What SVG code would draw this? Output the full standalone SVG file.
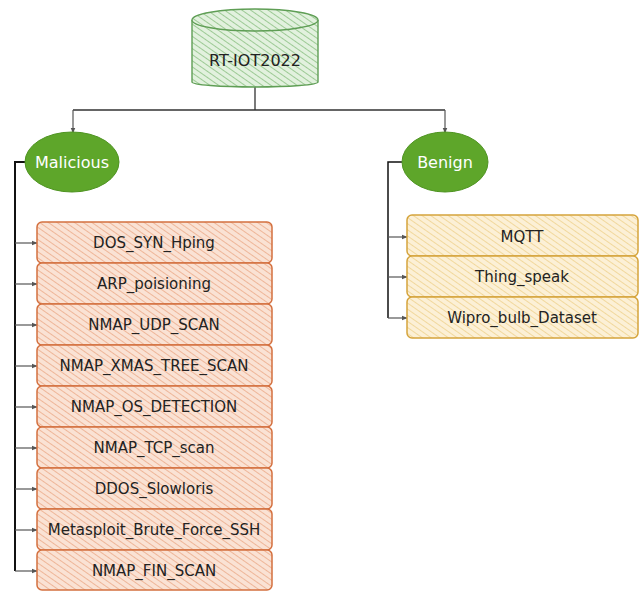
<svg xmlns="http://www.w3.org/2000/svg" width="640" height="591" viewBox="0 0 640 591">
  <defs>
    <pattern id="hatchGreen" patternUnits="userSpaceOnUse" width="5" height="5" patternTransform="rotate(-55)">
      <rect width="5" height="5" fill="#e2f1de"/>
      <line x1="0" y1="0" x2="0" y2="5" stroke="#8cc083" stroke-width="1.6"/>
    </pattern>
    <pattern id="hatchOrange" patternUnits="userSpaceOnUse" width="5" height="5" patternTransform="rotate(-55)">
      <rect width="5" height="5" fill="#fae2d4"/>
      <line x1="0" y1="0" x2="0" y2="5" stroke="#eaa886" stroke-width="1.5"/>
    </pattern>
    <pattern id="hatchYellow" patternUnits="userSpaceOnUse" width="5" height="5" patternTransform="rotate(-55)">
      <rect width="5" height="5" fill="#fcf0d6"/>
      <line x1="0" y1="0" x2="0" y2="5" stroke="#eed08a" stroke-width="1.5"/>
    </pattern>
    <marker id="arrow" viewBox="0 0 10 10" refX="9" refY="5" markerWidth="6" markerHeight="6" orient="auto" markerUnits="userSpaceOnUse">
      <path d="M0,1 L10,5 L0,9 Z" fill="#555"/>
    </marker>
  </defs>
  <style>
    .lbl { font-family: "DejaVu Sans", "Liberation Sans", sans-serif; font-size: 15px; fill: #222; text-anchor: middle; dominant-baseline: central; }
    .cat { font-family: "DejaVu Sans", "Liberation Sans", sans-serif; font-size: 16px; fill: #ffffff; text-anchor: middle; dominant-baseline: central; }
    .mal { fill: url(#hatchOrange); stroke: #d4703f; stroke-width: 1.5; }
    .ben { fill: url(#hatchYellow); stroke: #d5a43c; stroke-width: 1.5; }
    .oval { fill: #5ea62a; stroke: #4f9422; stroke-width: 1; }
    .wire { fill: none; stroke: #333; stroke-width: 1.3; }
    .trunk { fill: none; stroke: #111; stroke-width: 2; }
    .branch { fill: none; stroke: #555; stroke-width: 1.2; marker-end: url(#arrow); }
  </style>

  <rect width="640" height="591" fill="#ffffff"/>

  <!-- connectors -->
  <g id="connectors">
    <path class="wire" d="M255,87 V110 M73,110 H445"/>
    <path class="branch" d="M73,110 V133"/>
    <path class="branch" d="M445,110 V133"/>
    <!-- Malicious trunk -->
    <path class="trunk" d="M26,162 H15 V571"/>
    <path class="branch" d="M15,243 H37"/>
    <path class="branch" d="M15,284 H37"/>
    <path class="branch" d="M15,325 H37"/>
    <path class="branch" d="M15,366 H37"/>
    <path class="branch" d="M15,407 H37"/>
    <path class="branch" d="M15,448 H37"/>
    <path class="branch" d="M15,489 H37"/>
    <path class="branch" d="M15,530 H37"/>
    <path class="branch" d="M15,571 H37"/>
    <!-- Benign trunk -->
    <path class="trunk" d="M402,162 H388 V318" style="stroke-width:1.5"/>
    <path class="branch" d="M388,237 H407"/>
    <path class="branch" d="M388,277 H407"/>
    <path class="branch" d="M388,318 H407"/>
  </g>

  <!-- dataset root -->
  <g id="root">
    <path d="M192,20 V82 A63,5 0 0 0 318,82 V20" fill="url(#hatchGreen)" stroke="#5f9e55" stroke-width="1.4"/>
    <ellipse cx="255" cy="20" rx="63" ry="11" fill="url(#hatchGreen)" stroke="#5f9e55" stroke-width="1.4"/>
    <text class="lbl" x="255" y="60" style="font-size:16px">RT-IOT2022</text>
  </g>

  <g id="malicious">
    <ellipse class="oval" cx="72" cy="162" rx="47" ry="30"/>
    <text class="cat" x="72" y="162">Malicious</text>
  </g>

  <g id="benign">
    <ellipse class="oval" cx="445" cy="162" rx="43" ry="30"/>
    <text class="cat" x="445" y="162">Benign</text>
  </g>

  <!-- malicious traffic classes -->
  <g id="dos-syn-hping"><rect class="mal" x="37" y="222" width="235" height="41" rx="5"/><text class="lbl" x="154" y="243">DOS_SYN_Hping</text></g>
  <g id="arp-poisioning"><rect class="mal" x="37" y="263" width="235" height="41" rx="5"/><text class="lbl" x="154" y="284">ARP_poisioning</text></g>
  <g id="nmap-udp-scan"><rect class="mal" x="37" y="304" width="235" height="41" rx="5"/><text class="lbl" x="154" y="325">NMAP_UDP_SCAN</text></g>
  <g id="nmap-xmas-tree-scan"><rect class="mal" x="37" y="345" width="235" height="41" rx="5"/><text class="lbl" x="154" y="366">NMAP_XMAS_TREE_SCAN</text></g>
  <g id="nmap-os-detection"><rect class="mal" x="37" y="386" width="235" height="41" rx="5"/><text class="lbl" x="154" y="407">NMAP_OS_DETECTION</text></g>
  <g id="nmap-tcp-scan"><rect class="mal" x="37" y="427" width="235" height="41" rx="5"/><text class="lbl" x="154" y="448">NMAP_TCP_scan</text></g>
  <g id="ddos-slowloris"><rect class="mal" x="37" y="468" width="235" height="41" rx="5"/><text class="lbl" x="154" y="489">DDOS_Slowloris</text></g>
  <g id="metasploit-ssh"><rect class="mal" x="37" y="509" width="235" height="41" rx="5"/><text class="lbl" x="154" y="530">Metasploit_Brute_Force_SSH</text></g>
  <g id="nmap-fin-scan"><rect class="mal" x="37" y="550" width="235" height="40" rx="5"/><text class="lbl" x="154" y="571">NMAP_FIN_SCAN</text></g>

  <!-- benign traffic classes -->
  <g id="mqtt"><rect class="ben" x="407" y="215" width="231" height="41" rx="5"/><text class="lbl" x="522" y="237">MQTT</text></g>
  <g id="thing-speak"><rect class="ben" x="407" y="256" width="231" height="41" rx="5"/><text class="lbl" x="522" y="277">Thing_speak</text></g>
  <g id="wipro-bulb"><rect class="ben" x="407" y="297" width="231" height="41" rx="5"/><text class="lbl" x="522" y="318">Wipro_bulb_Dataset</text></g>
</svg>
